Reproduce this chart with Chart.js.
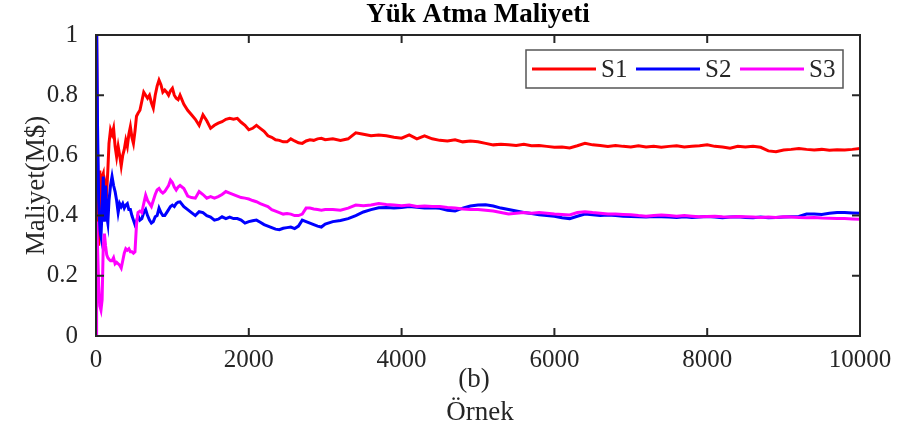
<!DOCTYPE html>
<html>
<head>
<meta charset="utf-8">
<script src="https://cdn.jsdelivr.net/npm/chart.js@4.4.0/dist/chart.umd.min.js"></script>
<style>
  body { margin: 0; background: #fff; }
  canvas { display: block; }
</style>
</head>
<body>
<canvas id="grafico" width="910" height="426"></canvas>
<script>
// Örnek (x) noktaları
const ornek = [
  0, 8, 20, 35, 50, 65, 80, 95, 110, 125, 140, 155, 170,
  190, 210, 230, 250, 270, 290, 310, 330, 350, 370, 390, 410, 430, 450, 470, 490, 510, 530, 550,
  575, 600, 625, 650, 675, 700, 725, 750, 775, 800, 825, 850, 875, 900, 925, 950, 975, 1000, 1025, 1050, 1075, 1100,
  1150, 1200, 1250, 1300, 1350, 1400, 1450, 1500, 1550, 1600, 1650, 1700, 1750, 1800, 1850, 1900, 1950, 2000,
  2050, 2100, 2150, 2200, 2250, 2300, 2350, 2400, 2450, 2500, 2550, 2600, 2650, 2700, 2750, 2800, 2850, 2900, 2950, 3000,
  3100, 3200, 3300, 3400, 3500, 3600, 3700, 3800, 3900, 4000,
  4100, 4200, 4300, 4400, 4500, 4600, 4700, 4800, 4900, 5000,
  5100, 5200, 5300, 5400, 5500, 5600, 5700, 5800, 5900, 6000,
  6100, 6200, 6300, 6400, 6500, 6600, 6700, 6800, 6900, 7000,
  7100, 7200, 7300, 7400, 7500, 7600, 7700, 7800, 7900, 8000,
  8100, 8200, 8300, 8400, 8500, 8600, 8700, 8800, 8900, 9000,
  9100, 9200, 9300, 9400, 9500, 9600, 9700, 9800, 9900, 10000
];

const s1 = [
  1.25, 1.0, 0.62, 0.30, 0.55, 0.42, 0.53, 0.54, 0.45, 0.50, 0.48, 0.55, 0.64,
  0.685, 0.67, 0.69, 0.63, 0.595, 0.63, 0.60, 0.565, 0.60, 0.62, 0.65, 0.63, 0.67, 0.695, 0.66, 0.64, 0.68, 0.73, 0.74,
  0.75, 0.78, 0.81, 0.80, 0.79, 0.80, 0.775, 0.757, 0.80, 0.83, 0.85, 0.835, 0.81, 0.817, 0.81, 0.80, 0.815, 0.823, 0.80, 0.79, 0.785, 0.80,
  0.77, 0.75, 0.735, 0.72, 0.70, 0.735, 0.715, 0.69, 0.70, 0.707, 0.712, 0.72, 0.723, 0.72, 0.723, 0.71, 0.70, 0.685,
  0.69, 0.70, 0.69, 0.68, 0.665, 0.66, 0.652, 0.65, 0.645, 0.645, 0.655, 0.648, 0.642, 0.64, 0.648, 0.652, 0.65, 0.655, 0.657, 0.652,
  0.655, 0.65, 0.655, 0.675, 0.67, 0.665, 0.668, 0.665, 0.66, 0.657,
  0.668, 0.655, 0.665, 0.655, 0.65, 0.648, 0.652, 0.645, 0.648, 0.645,
  0.64, 0.635, 0.637, 0.635, 0.633, 0.637, 0.632, 0.633, 0.63, 0.627,
  0.628, 0.625, 0.632, 0.64, 0.635, 0.633, 0.63, 0.633, 0.63, 0.628,
  0.632, 0.628, 0.63, 0.627, 0.63, 0.632, 0.628, 0.63, 0.632, 0.635,
  0.63, 0.628, 0.624, 0.63, 0.628, 0.63, 0.627, 0.615, 0.612, 0.618,
  0.62, 0.623, 0.62, 0.618, 0.62, 0.617, 0.619, 0.618, 0.62, 0.623
];

const s2 = [
  1.3, 1.05, 0.70, 0.45, 0.35, 0.33, 0.42, 0.53, 0.38, 0.50, 0.40, 0.375, 0.45,
  0.50, 0.53, 0.50, 0.48, 0.45, 0.41, 0.44, 0.43, 0.44, 0.425, 0.435, 0.44, 0.42, 0.42, 0.40, 0.385, 0.37, 0.38, 0.40,
  0.385, 0.39, 0.41, 0.42, 0.40, 0.385, 0.375, 0.38, 0.396, 0.40, 0.425, 0.41, 0.40, 0.40, 0.41, 0.42, 0.43, 0.435, 0.43, 0.44, 0.445, 0.446,
  0.43, 0.42, 0.41, 0.40, 0.413, 0.41, 0.40, 0.395, 0.385, 0.388, 0.396, 0.39, 0.395, 0.39, 0.39, 0.385, 0.375, 0.38,
  0.383, 0.385, 0.378, 0.37, 0.365, 0.36, 0.355, 0.353, 0.358, 0.36, 0.362, 0.357, 0.365, 0.385, 0.38, 0.375, 0.37, 0.365, 0.362, 0.372,
  0.38, 0.384, 0.39, 0.40, 0.412, 0.42, 0.426, 0.427, 0.425, 0.427,
  0.43, 0.428, 0.425, 0.426, 0.424, 0.418, 0.415, 0.425, 0.432, 0.435,
  0.436, 0.432, 0.425, 0.42, 0.415, 0.41, 0.407, 0.403, 0.40, 0.398,
  0.393, 0.39, 0.398, 0.405, 0.403, 0.40, 0.402, 0.40, 0.398, 0.397,
  0.396, 0.395, 0.397, 0.396, 0.395, 0.394, 0.396, 0.394, 0.395, 0.397,
  0.395, 0.393, 0.395, 0.396, 0.394, 0.393, 0.395, 0.393, 0.394, 0.395,
  0.396, 0.397, 0.405, 0.405, 0.404, 0.408, 0.41, 0.41, 0.409, 0.408
];

const s3 = [
  0.0, 0.38, 0.30, 0.17, 0.10, 0.086, 0.12, 0.30, 0.34, 0.30, 0.27, 0.26, 0.255,
  0.25, 0.25, 0.26, 0.24, 0.245, 0.24, 0.235, 0.226, 0.25, 0.275, 0.29, 0.285, 0.29, 0.28, 0.28, 0.275, 0.28, 0.37, 0.41,
  0.415, 0.41, 0.44, 0.468, 0.45, 0.44, 0.43, 0.45, 0.47, 0.485, 0.49, 0.48, 0.475, 0.48, 0.49, 0.50, 0.518, 0.51, 0.495, 0.485, 0.495, 0.50,
  0.49, 0.465, 0.46, 0.458, 0.48, 0.47, 0.458, 0.463, 0.458, 0.463, 0.47, 0.48, 0.475, 0.47, 0.465, 0.46, 0.458, 0.455,
  0.45, 0.446, 0.44, 0.435, 0.43, 0.42, 0.415, 0.41, 0.405, 0.407, 0.405, 0.40, 0.40, 0.405, 0.425, 0.425, 0.422, 0.42, 0.418, 0.42,
  0.42, 0.418, 0.425, 0.435, 0.433, 0.435, 0.44, 0.437, 0.435, 0.433,
  0.435, 0.43, 0.432, 0.43, 0.43, 0.427, 0.425, 0.422, 0.42, 0.42,
  0.418, 0.415, 0.41, 0.405, 0.408, 0.41, 0.408, 0.41, 0.408, 0.405,
  0.404, 0.402, 0.41, 0.413, 0.41, 0.408, 0.405, 0.405, 0.404, 0.403,
  0.40, 0.398, 0.40, 0.402, 0.40, 0.398, 0.40, 0.398, 0.396, 0.397,
  0.398, 0.396, 0.395, 0.397, 0.396, 0.395, 0.394, 0.395, 0.394, 0.396,
  0.395, 0.394, 0.393, 0.394, 0.392, 0.391, 0.39, 0.39, 0.389, 0.388
];

const seriler = ['S1', 'S2', 'S3'];
const renkler = ['#ff0000', '#0000ff', '#ff00ff'];
const xTikler = [0, 2000, 4000, 6000, 8000, 10000];
const yTikler = [0, 0.2, 0.4, 0.6, 0.8, 1];

const yazi = '"Liberation Serif", "Times New Roman", serif';
const eksenRengi = '#262626';

function noktalar(ys) {
  return ornek.map((x, i) => ({ x: x, y: ys[i] }));
}

// çerçeve, iç tikler, başlıklar ve lejant
const cerceve = {
  id: 'cerceve',
  afterDraw(chart) {
    const { ctx, chartArea: a, scales } = chart;
    const x = scales.x, y = scales.y;
    ctx.save();
    ctx.strokeStyle = eksenRengi;
    ctx.lineWidth = 2;
    ctx.strokeRect(a.left, a.top, a.right - a.left, a.bottom - a.top);

    ctx.beginPath();
    xTikler.forEach(v => {
      const px = x.getPixelForValue(v);
      ctx.moveTo(px, a.bottom); ctx.lineTo(px, a.bottom - 8);
      ctx.moveTo(px, a.top); ctx.lineTo(px, a.top + 8);
    });
    yTikler.forEach(v => {
      const py = y.getPixelForValue(v);
      ctx.moveTo(a.left, py); ctx.lineTo(a.left + 8, py);
      ctx.moveTo(a.right, py); ctx.lineTo(a.right - 8, py);
    });
    ctx.stroke();

    const orta = (a.left + a.right) / 2;
    ctx.fillStyle = '#000';
    ctx.textAlign = 'center';
    ctx.textBaseline = 'alphabetic';
    ctx.font = 'bold 27px ' + yazi;
    ctx.fillText('Yük Atma Maliyeti', orta, 22);

    ctx.fillStyle = '#262626';
    ctx.font = '27px ' + yazi;
    ctx.fillText('(b)', orta - 4, 387);
    ctx.fillText('Örnek', orta + 2, 420);

    ctx.save();
    ctx.translate(44, (a.top + a.bottom) / 2);
    ctx.rotate(-Math.PI / 2);
    ctx.fillText('Maliyet(M$)', 0, 0);
    ctx.restore();

    // lejant
    const lx = 526, ly = 50, lw = 317, lh = 38;
    ctx.fillStyle = '#fff';
    ctx.fillRect(lx, ly, lw, lh);
    ctx.strokeStyle = '#555';
    ctx.lineWidth = 1.5;
    ctx.strokeRect(lx, ly, lw, lh);
    const cy = ly + lh / 2;
    const basla = [532, 636, 740];
    ctx.font = '25px ' + yazi;
    ctx.textAlign = 'left';
    ctx.textBaseline = 'middle';
    seriler.forEach((s, i) => {
      ctx.strokeStyle = renkler[i];
      ctx.lineWidth = 3;
      ctx.beginPath();
      ctx.moveTo(basla[i], cy);
      ctx.lineTo(basla[i] + 64, cy);
      ctx.stroke();
      ctx.fillStyle = '#262626';
      ctx.fillText(s, basla[i] + 69, cy + 1);
    });
    ctx.restore();
  }
};

new Chart(document.getElementById('grafico'), {
  type: 'line',
  data: {
    datasets: [
      { label: seriler[0], data: noktalar(s1), borderColor: renkler[0], order: 3 },
      { label: seriler[1], data: noktalar(s2), borderColor: renkler[1], order: 2 },
      { label: seriler[2], data: noktalar(s3), borderColor: renkler[2], order: 1 }
    ]
  },
  options: {
    responsive: false,
    animation: false,
    parsing: false,
    elements: {
      point: { radius: 0 },
      line: { borderWidth: 3, tension: 0 }
    },
    layout: { padding: { left: 0, right: 50, top: 35, bottom: 0 } },
    plugins: {
      legend: { display: false },
      tooltip: { enabled: false }
    },
    scales: {
      x: {
        type: 'linear',
        min: 0,
        max: 10000,
        afterFit: s => { s.height = 90; },
        afterBuildTicks: s => { s.ticks = xTikler.map(v => ({ value: v })); },
        grid: { display: false },
        border: { display: false },
        ticks: {
          color: '#262626',
          padding: 1,
          maxRotation: 0,
          font: { family: yazi, size: 25 },
          callback: v => String(v)
        }
      },
      y: {
        min: 0,
        max: 1,
        afterFit: s => { s.width = 96; },
        afterBuildTicks: s => { s.ticks = yTikler.map(v => ({ value: v })); },
        grid: { display: false },
        border: { display: false },
        ticks: {
          color: '#262626',
          padding: 10,
          font: { family: yazi, size: 25 },
          callback: v => String(v)
        }
      }
    }
  },
  plugins: [cerceve]
});
</script>
</body>
</html>
